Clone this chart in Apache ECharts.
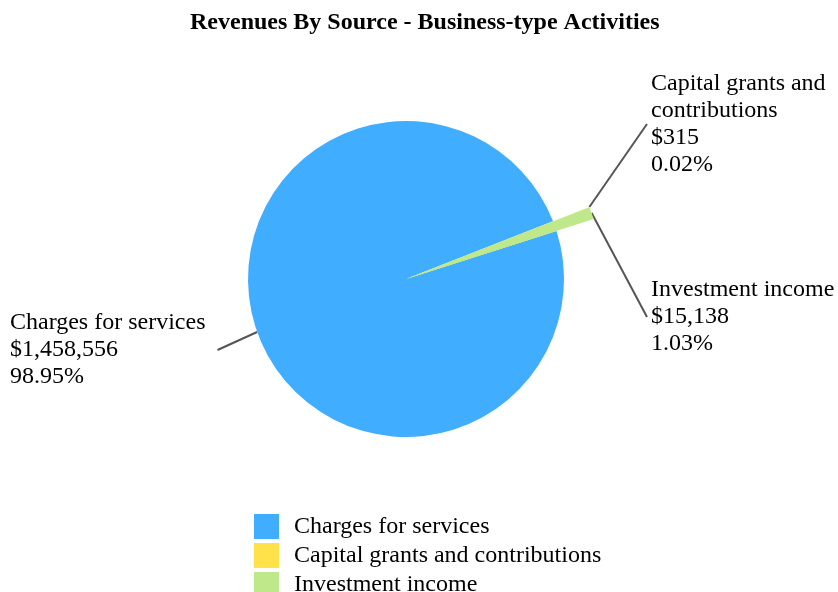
<!DOCTYPE html>
<html>
<head>
<meta charset="utf-8">
<script src="https://cdn.jsdelivr.net/npm/echarts@6/dist/echarts.min.js"></script>
<style>
  html, body { margin: 0; padding: 0; background: #fff; }
  #chart { width: 838px; height: 592px; }
</style>
</head>
<body>
<div id="chart"></div>
<script>
// revenue sources (business-type activities)
const categories = ['Charges for services', 'Capital grants and contributions', 'Investment income'];
const amounts = [1458556, 315, 15138];

const COLORS = ['#40adff', '#ffe14a', '#bfe88b'];
const FONT = 'Liberation Serif, Times New Roman, serif';
const CENTER = [406, 279];
const START = 17.7;

// where each label block sits (left-middle anchor), by data index
const LABEL_POS = [
  { x: 10, y: 350 },
  { x: 647, y: 124 },
  { x: 647, y: 317 }
];

const fmt = p => p.name + '\n$' + p.value.toLocaleString('en-US') + '\n' + p.percent.toFixed(2) + '%';

const LABEL = {
  color: '#000', fontFamily: FONT, fontSize: 24, lineHeight: 27,
  formatter: fmt
};
const LABEL_LINE = { show: true, length: 20, length2: 0, lineStyle: { color: '#555', width: 2 } };

function labelLayout(params) {
  const pos = LABEL_POS[params.dataIndex];
  if (!pos) return {};
  return { x: pos.x, y: pos.y, align: 'left', verticalAlign: 'middle' };
}

const chart = echarts.init(document.getElementById('chart'));

chart.setOption({
  animation: false,
  title: {
    text: 'Revenues By Source - Business-type Activities',
    left: 185, top: 6,
    textStyle: { fontFamily: FONT, fontSize: 24, fontWeight: 'bold', color: '#000' }
  },
  legend: {
    orient: 'vertical',
    left: 249, top: 509, height: 120,
    icon: 'rect',
    itemWidth: 25, itemHeight: 25, itemGap: 4,
    data: categories,
    textStyle: { fontFamily: FONT, fontSize: 24, color: '#000', padding: [2, 0, 0, 10] }
  },
  series: [
    {
      type: 'pie',
      center: CENTER,
      radius: 158,
      startAngle: START,
      silent: true,
      labelLayout: labelLayout,
      data: categories.map((name, i) => ({
        name,
        value: amounts[i],
        itemStyle: { color: COLORS[i] },
        label: i === 0
          ? { show: true, ...LABEL, padding: [0, 12, 0, 0] }
          : { show: false },
        labelLine: i === 0 ? LABEL_LINE : { show: false }
      }))
    },
    {
      type: 'pie',
      center: CENTER,
      radius: 197,
      startAngle: START,
      silent: true,
      labelLayout: labelLayout,
      data: categories.map((name, i) => ({
        name,
        value: amounts[i],
        itemStyle: { color: i === 0 ? 'transparent' : COLORS[i] },
        label: i === 0
          ? { show: false }
          : { show: true, ...LABEL, width: 190, overflow: 'break', padding: [0, 0, 0, 4] },
        labelLine: i === 0 ? { show: false } : LABEL_LINE
      }))
    }
  ]
});

window.addEventListener('resize', () => chart.resize());
</script>
</body>
</html>
